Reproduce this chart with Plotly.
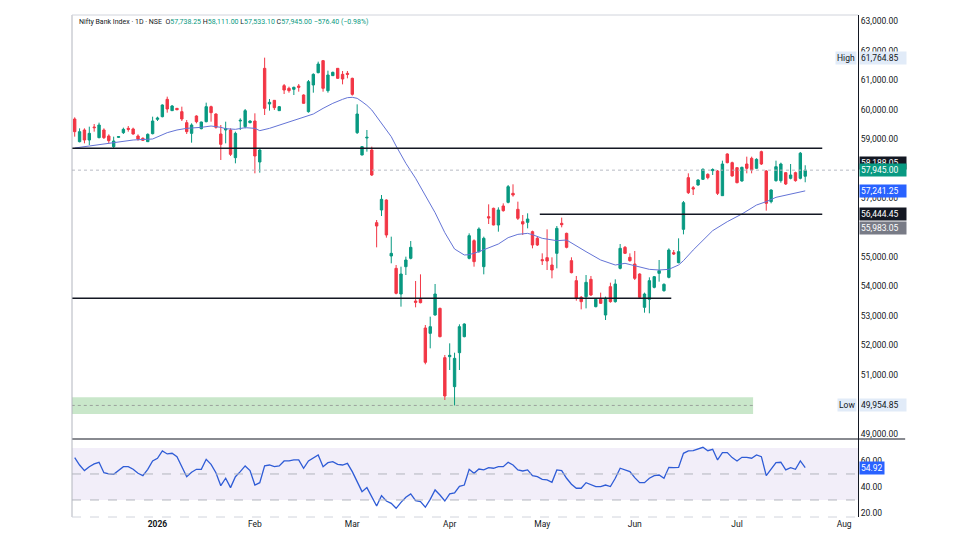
import plotly.graph_objects as go

# ---------------- data ----------------
opens = [59682, 58912, 59309, 58969, 59410, 59048, 59309, 59105, 58743, 59060,
         59218, 59365, 59343, 59105, 59026, 58912, 59184, 59671, 59761, 60350,
         59965, 60044, 59931, 59558, 59195, 59784, 59354, 59591, 60101, 59852,
         59173, 59309, 59309, 58369, 59614, 59422, 59558, 59614, 58222, 61403,
         60192, 60316, 59965, 60814, 60724, 60690, 60803, 60497, 59931, 60837,
         61256, 61663, 60644, 61154, 61403, 61199, 61233, 61063, 59218, 58460,
         59037, 58629, 56162, 56592, 56931, 55030, 54611, 53739, 54667, 54951,
         53501, 53558, 52585, 52403, 53026, 53252, 51577, 51611, 50592, 51746,
         52290, 54951, 55550, 55177, 54667, 56365, 56649, 56082, 56728, 56852,
         57158, 56615, 56196, 56173, 55856, 55630, 54906, 54973, 54724, 55120,
         56139, 55799, 54871, 54192, 53626, 53649, 54237, 53309, 53558, 53026,
         53988, 53479, 54611, 55324, 54985, 54758, 54418, 53286, 53558, 53965,
         54441, 53852, 54305, 55143, 54803, 55935, 57690, 57350, 57441, 57633,
         57803, 57928, 57916, 57078, 58494, 58199, 58029, 57577, 58154, 58347,
         58007, 58573, 57916, 56875, 57588, 57588, 57860, 57667, 57860, 57667,
         57738.25]
highs = [59739, 59365, 59365, 59422, 59512, 59558, 59365, 59161, 59082, 59094,
         59388, 59444, 59388, 59161, 59060, 59195, 59761, 59761, 60180, 60441,
         60158, 60056, 60101, 59648, 59535, 59807, 59591, 60237, 60135, 59875,
         59478, 59591, 59365, 59252, 59705, 60022, 59637, 59875, 58686, 61764.85,
         60361, 60327, 60124, 60871, 60780, 60780, 60871, 60520, 61007, 61233,
         61629, 61686, 61324, 61290, 61414, 61312, 61312, 61086, 60180, 58765,
         59309, 58743, 56252, 57101, 56954, 55686, 54724, 54667, 55007, 55539,
         54181, 54407, 52686, 52969, 54079, 53275, 51668, 52064, 51746, 52709,
         52743, 55799, 55596, 56003, 55686, 56784, 56671, 56682, 56818, 57441,
         57464, 56875, 56422, 56479, 55890, 55686, 55120, 55935, 54985, 56048,
         56332, 55822, 54985, 54351, 53671, 54384, 54351, 53592, 53785, 53649,
         54124, 54237, 55437, 55369, 55120, 55200, 54441, 53785, 54305, 54351,
         54894, 54101, 55290, 55233, 55630, 56897, 57837, 57407, 57633, 58007,
         57837, 58007, 57950, 58267, 58516, 58233, 58041, 58063, 58403, 58403,
         58347, 58607, 57950, 57294, 58267, 58199, 57871, 58154, 57894, 58562,
         58111.00]
lows = [59082, 58890, 58856, 58799, 59252, 59026, 59003, 58856, 58686, 59037,
        59173, 59252, 59150, 58946, 58935, 58901, 59161, 59614, 59739, 59897,
        59954, 59977, 59614, 59173, 58878, 59535, 59331, 59569, 59591, 59354,
        58290, 58856, 58426, 58177, 59309, 59365, 59535, 57837, 57860, 59818,
        59965, 59988, 59954, 60531, 60576, 60497, 60610, 60203, 59897, 60576,
        61233, 60610, 60576, 61142, 61041, 60859, 61063, 60475, 59173, 58448,
        58573, 57747, 55324, 56388, 55652, 54781, 53728, 53309, 54384, 54917,
        53286, 53422, 51351, 51894, 53004, 52268, 50139, 51158, 49954.85, 51158,
        52268, 54917, 54667, 55143, 54407, 56116, 56071, 55856, 56535, 56818,
        57045, 56252, 55743, 55969, 55290, 55369, 54724, 54554, 54271, 54611,
        56003, 55290, 54441, 53513, 53218, 53252, 53671, 53286, 53400, 52856,
        53445, 53445, 54577, 55098, 54837, 54215, 53592, 53105, 53083, 53931,
        54158, 53818, 54271, 55064, 54781, 55765, 57135, 57101, 57418, 57611,
        57633, 57780, 57101, 57067, 58177, 57724, 57497, 57554, 57837, 57837,
        57996, 58120, 56569, 56818, 57554, 57520, 57441, 57633, 57554, 57633,
        57533.10]
closes = [59252, 59252, 58969, 59195, 59388, 59478, 59048, 58946, 58935, 59082,
          59331, 59331, 59173, 59003, 58958, 59161, 59614, 59716, 60158, 60022,
          60124, 59999, 59682, 59252, 59478, 59591, 59580, 60101, 59897, 59399,
          58822, 59354, 58482, 59195, 59637, 59965, 59614, 58426, 58629, 60044,
          60248, 60067, 60101, 60667, 60644, 60758, 60758, 60214, 60950, 61199,
          61550, 60724, 61176, 61267, 61063, 61041, 61199, 60520, 59852, 58743,
          59060, 57780, 56048, 56954, 55743, 55120, 53762, 54418, 54894, 55324,
          53456, 53445, 51419, 52630, 53739, 52290, 50275, 51656, 51554, 52630,
          52720, 55720, 54837, 55947, 55630, 56320, 56082, 56592, 56569, 57384,
          57101, 56309, 56116, 56286, 55403, 55403, 54871, 54860, 54554, 55969,
          56093, 55324, 54464, 53592, 53479, 54135, 53705, 53558, 53422, 53592,
          53479, 54079, 55290, 55120, 54871, 54271, 53626, 53739, 54192, 54328,
          54532, 54067, 55233, 55098, 55177, 56841, 57180, 57305, 57611, 57973,
          57690, 57962, 57158, 58154, 58199, 57747, 57520, 58041, 58007, 57950,
          58313, 58154, 56818, 57271, 58063, 58154, 57475, 57780, 57588, 58521.40,
          57945.00]

# moving average read at selected bars
ma_bars = [0, 3, 6, 9, 12, 16, 18, 19, 21, 23, 26, 28, 30, 31, 33, 35, 37, 38, 40,
           42, 44, 47, 49, 51, 53, 55, 56, 57, 58, 59, 60, 61, 63, 65, 66, 68, 70,
           72, 74, 76, 78, 80, 81, 83, 85, 87, 89, 91, 93, 94, 96, 99, 101, 103,
           105, 108, 111, 113, 116, 118, 120, 122, 124, 125, 127, 128, 131, 134,
           137, 140, 142, 144, 146, 148, 150]
ma_vals = [58697, 58765, 58856, 58912, 58969, 59003, 59139, 59218, 59309, 59365,
           59399, 59444, 59399, 59354, 59331, 59388, 59365, 59286, 59365, 59478,
           59591, 59761, 59852, 60044, 60214, 60350, 60407, 60418, 60384, 60271,
           60146, 59988, 59535, 59082, 58765, 58177, 57667, 57101, 56501, 55822,
           55267, 55064, 55075, 55177, 55313, 55437, 55652, 55765, 55799, 55754,
           55630, 55550, 55573, 55369, 55177, 54894, 54724, 54781, 54656, 54577,
           54554, 54577, 54724, 54871, 55233, 55403, 55890, 56196, 56456, 56761,
           56875, 57022, 57101, 57169, 57241.25]

rsi_vals = [62.6, 56.9, 52.6, 55.6, 57.7, 59.0, 51.0, 50.0, 49.7, 52.3,
            55.6, 55.6, 53.6, 50.5, 48.7, 53.6, 60.0, 62.1, 67.7, 65.4,
            65.9, 63.3, 55.6, 47.9, 51.3, 53.6, 53.6, 61.3, 57.4, 51.0,
            41.0, 46.7, 39.5, 47.9, 51.8, 56.2, 52.6, 41.5, 43.3, 56.2,
            56.9, 55.6, 56.2, 60.0, 60.0, 60.8, 60.8, 54.4, 60.0, 62.1,
            64.6, 55.6, 58.7, 59.5, 57.4, 56.9, 58.2, 51.8, 44.1, 36.4,
            39.5, 31.8, 25.4, 33.3, 29.2, 27.4, 23.6, 28.2, 32.1, 34.6,
            29.5, 28.7, 24.4, 30.5, 37.7, 33.8, 29.2, 34.7, 35.5, 40.5,
            41.5, 53.6, 50.5, 53.8, 53.1, 54.9, 54.4, 55.6, 55.6, 59.0,
            56.9, 53.1, 52.3, 53.1, 48.7, 47.9, 45.9, 45.4, 43.6, 53.1,
            52.6, 46.7, 42.1, 39.0, 39.0, 43.3, 41.5, 40.3, 40.3, 41.5,
            40.3, 46.7, 54.4, 53.1, 51.8, 47.2, 43.3, 43.3, 46.7, 48.7,
            49.2, 46.7, 55.1, 54.9, 55.1, 65.9, 67.7, 67.9, 69.2, 70.5,
            67.9, 69.0, 60.8, 66.4, 66.4, 62.6, 60.0, 62.8, 62.8, 62.1,
            64.6, 63.3, 48.7, 53.6, 58.7, 59.0, 53.1, 54.9, 53.6, 60.0,
            54.92]

month_bars = [17, 37, 57, 77, 96, 115, 136, 158]
month_labels = ["<b>2026</b>", "Feb", "Mar", "Apr", "May", "Jun", "Jul", "Aug"]

# price ticks whose labels are not covered by the price tags
price_ticks = [49000, 51000, 52000, 53000, 54000, 55000, 57000, 59000, 60000,
               61000, 62000, 63000]
rsi_ticks = [20, 40, 60]

# drawn levels: (price, first bar, last bar)
levels = [(58686, -0.6, 153.5), (56444.45, 95.5, 153.5), (53592, -0.6, 122.5)]
demand_zone = (49664, 50229, -0.6, 139.3)
period_high = 61764.85
period_low = 49954.85
last_close = 57945.00
last_ma = 57241.25
extra_levels = [58188.05, 56444.45, 55983.05]

# ---------------- styling ----------------
GREEN = "#089981"
RED = "#F23645"
MA_COLOR = "#6474d6"
RSI_COLOR = "#2f5cd6"
TXT = "#131722"
FONT = "Roboto"

n = len(opens)
bars = list(range(n))
XR = [-0.554, 160.84]

fig = go.Figure()
fig.add_trace(go.Candlestick(
    x=bars, open=opens, high=highs, low=lows, close=closes,
    increasing=dict(line=dict(color=GREEN, width=1), fillcolor=GREEN),
    decreasing=dict(line=dict(color=RED, width=1), fillcolor=RED),
    whiskerwidth=0, showlegend=False, hoverinfo="skip", xaxis="x", yaxis="y"))
fig.add_trace(go.Scatter(x=ma_bars, y=ma_vals, mode="lines",
                         line=dict(color=MA_COLOR, width=1), hoverinfo="skip",
                         showlegend=False, xaxis="x", yaxis="y"))
fig.add_trace(go.Scatter(x=bars, y=rsi_vals, mode="lines",
                         line=dict(color=RSI_COLOR, width=1.3), hoverinfo="skip",
                         showlegend=False, xaxis="x2", yaxis="y2"))

shapes = []
# demand zone
z0, z1, zx0, zx1 = demand_zone
shapes.append(dict(type="rect", xref="x", yref="y", x0=zx0, x1=zx1, y0=z0, y1=z1,
                   fillcolor="rgba(76,175,80,0.30)", line=dict(width=0), layer="below"))
shapes.append(dict(type="line", xref="x", yref="y", x0=zx0, x1=zx1,
                   y0=period_low, y1=period_low, line=dict(color="#9aa09c", width=1, dash="3px,3px")))
# last close dotted line
shapes.append(dict(type="line", xref="paper", yref="y", x0=0, x1=1,
                   y0=last_close, y1=last_close, line=dict(color="#b8bbc4", width=1, dash="dot")))
for p, a, b in levels:
    shapes.append(dict(type="line", xref="x", yref="y", x0=a, x1=b, y0=p, y1=p,
                       line=dict(color=TXT, width=1.5)))
# RSI band and levels
shapes.append(dict(type="rect", xref="paper", yref="y2", x0=0, x1=1, y0=30, y1=70,
                   fillcolor="rgba(126,87,194,0.10)", line=dict(width=0), layer="below"))
for lv in (50, 30):
    shapes.append(dict(type="line", xref="paper", yref="y2", x0=0, x1=1, y0=lv, y1=lv,
                       line=dict(color="#b2b5be", width=1, dash="dash")))
# pane separator, borders
shapes.append(dict(type="line", xref="paper", yref="paper", x0=0, x1=1.06,
                   y0=0.15538, y1=0.15538, line=dict(color=TXT, width=1.2)))
shapes.append(dict(type="line", xref="paper", yref="paper", x0=0, x1=0, y0=0, y1=1,
                   line=dict(color="#b2b5be", width=1)))
shapes.append(dict(type="line", xref="paper", yref="paper", x0=0, x1=1, y0=1, y1=1,
                   line=dict(color="#d1d4dc", width=1)))
shapes.append(dict(type="line", xref="paper", yref="paper", x0=0, x1=1, y0=0, y1=0,
                   line=dict(color="#d1d4dc", width=1, dash="dash")))

annotations = []


def fmt(v):
    return f"{v:,.2f}"


def price_label(y, text, bg, fg="white", yref="y"):
    annotations.append(dict(xref="paper", yref=yref, x=1, y=y, xanchor="left", yanchor="middle",
                            xshift=1, text=text, showarrow=False, bgcolor=bg,
                            font=dict(family=FONT, size=8.5, color=fg), borderpad=1,
                            width=44, align="left"))


def side_tag(y, text):
    annotations.append(dict(xref="paper", yref="y", x=1, y=y, xanchor="right", yanchor="middle",
                            xshift=-1, text=text, showarrow=False, bgcolor="#e1ebf8",
                            font=dict(family=FONT, size=8.5, color=TXT), borderpad=1))


price_label(period_high, fmt(period_high), "#e1ebf8", TXT)
side_tag(period_high, "High")
price_label(extra_levels[0], fmt(extra_levels[0]), "#131722")
price_label(last_close, fmt(last_close), GREEN)
price_label(last_ma, fmt(last_ma), "#2962FF")
price_label(extra_levels[1], fmt(extra_levels[1]), "#131722")
price_label(extra_levels[2], fmt(extra_levels[2]), "#787b86")
price_label(period_low, fmt(period_low), "#e1ebf8", TXT)
side_tag(period_low, "Low")
annotations.append(dict(xref="paper", yref="y2", x=1, y=rsi_vals[-1], xanchor="left",
                        yanchor="middle", xshift=1, text=f"{rsi_vals[-1]:.2f}", showarrow=False,
                        bgcolor="#2962FF", font=dict(family=FONT, size=8.5, color="white"),
                        borderpad=1))

o, h, l, c = opens[-1], highs[-1], lows[-1], closes[-1]
chg = c - closes[-2]
pct = chg / closes[-2] * 100
vc = GREEN if c >= o else RED
title = (f"<span style='color:{TXT}'>Nifty Bank Index · 1D · NSE</span>  "
         f"<span style='color:{TXT}'>O</span><span style='color:{vc}'>{o:,.2f}</span> "
         f"<span style='color:{TXT}'>H</span><span style='color:{vc}'>{h:,.2f}</span> "
         f"<span style='color:{TXT}'>L</span><span style='color:{vc}'>{l:,.2f}</span> "
         f"<span style='color:{TXT}'>C</span><span style='color:{vc}'>{c:,.2f}</span> "
         f"<span style='color:{vc}'>{chg:+,.2f} ({pct:+.2f}%)</span>").replace("-", "−")
annotations.append(dict(xref="paper", yref="paper", x=0.006, y=0.986, xanchor="left",
                        yanchor="middle", text=title, showarrow=False,
                        font=dict(family=FONT, size=7, color=TXT)))

fig.update_layout(
    width=974, height=548,
    margin=dict(l=72, r=116, t=15, b=31),
    paper_bgcolor="white", plot_bgcolor="white",
    showlegend=False,
    font=dict(family=FONT, size=8.5, color=TXT),
    xaxis=dict(domain=[0, 1], range=XR, anchor="y", showticklabels=False, showgrid=False,
               zeroline=False, rangeslider=dict(visible=False), fixedrange=True),
    yaxis=dict(domain=[0.15538, 1], range=[48815, 63214], side="right", anchor="x",
               tickvals=price_ticks, ticktext=[fmt(v) for v in price_ticks],
               showgrid=False, zeroline=False, showline=True, linecolor=TXT, linewidth=1,
               ticks="", tickfont=dict(family=FONT, size=8.5, color=TXT)),
    xaxis2=dict(domain=[0, 1], range=XR, anchor="y2", matches="x", tickvals=month_bars,
                ticktext=month_labels, showgrid=False, zeroline=False, ticks="",
                tickfont=dict(family=FONT, size=8.5, color=TXT)),
    yaxis2=dict(domain=[0, 0.15538], range=[16.9, 76.9], side="right", anchor="x2",
                tickvals=rsi_ticks, ticktext=[f"{v:.2f}" for v in rsi_ticks],
                showgrid=False, zeroline=False, showline=True, linecolor=TXT, linewidth=1,
                ticks="", tickfont=dict(family=FONT, size=8.5, color=TXT)),
    shapes=shapes,
    annotations=annotations,
)

fig.write_html("out.html")
